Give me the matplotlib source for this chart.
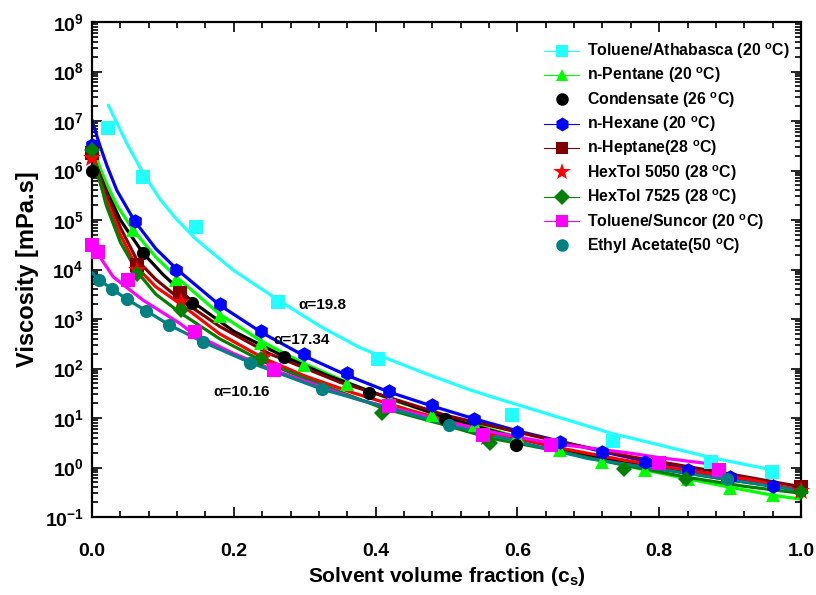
import matplotlib
matplotlib.use("Agg")
import matplotlib.pyplot as plt
from matplotlib.lines import Line2D
from matplotlib.ticker import LogLocator, NullFormatter, MultipleLocator
import numpy as np

plt.rcParams['font.family'] = ['Liberation Sans', 'DejaVu Sans']
plt.rcParams['mathtext.fontset'] = 'custom'
plt.rcParams['mathtext.rm'] = 'Liberation Sans'
plt.rcParams['mathtext.bf'] = 'Liberation Sans:bold'
plt.rcParams['mathtext.it'] = 'Liberation Sans:italic'

# ---------------- data (log10 of viscosity in mPa.s) ----------------
labels = ["Toluene/Athabasca (20 $^{\\mathbf{o}}$C)", "n-Pentane (20 $^{\\mathbf{o}}$C)",
          "Condensate (26 $^{\\mathbf{o}}$C)", "n-Hexane (20 $^{\\mathbf{o}}$C)",
          "n-Heptane(28 $^{\\mathbf{o}}$C)", "HexTol 5050 (28 $^{\\mathbf{o}}$C)",
          "HexTol 7525 (28 $^{\\mathbf{o}}$C)", "Toluene/Suncor (20 $^{\\mathbf{o}}$C)",
          "Ethyl Acetate(50 $^{\\mathbf{o}}$C)"]
colors = ['#22FFFF', '#00FF00', '#000000', '#0000FF', '#800000', '#FF0000', '#008000', '#FF00FF', '#008080']
markers = ['s', '^', 'o', 'h', 's', '*', 'D', 's', 'o']
legend_line = [True, True, False, True, True, False, True, True, False]

# measured points
athabasca_x = [0.023, 0.072, 0.146, 0.263, 0.404, 0.592, 0.735, 0.873, 0.959]
athabasca_y = [6.85, 5.86, 4.85, 3.35, 2.19, 1.06, 0.54, 0.105, -0.097]
pentane_x = [0.0, 0.058, 0.119, 0.18, 0.239, 0.299, 0.36, 0.42, 0.48, 0.54, 0.60, 0.66, 0.72, 0.78, 0.84, 0.90, 0.96]
pentane_y = [6.48, 4.80, 3.79, 3.06, 2.52, 2.07, 1.69, 1.36, 1.06, 0.86, 0.64, 0.35, 0.12, -0.06, -0.24, -0.41, -0.555]
condensate_x = [0.0, 0.0715, 0.1415, 0.271, 0.39, 0.498, 0.598]
condensate_y = [5.98, 4.34, 3.32, 2.24, 1.51, 0.97, 0.46]
hexane_x = [0.0, 0.06, 0.119, 0.18, 0.239, 0.299, 0.36, 0.419, 0.479, 0.539, 0.60, 0.66, 0.72, 0.78, 0.841, 0.90, 0.96]
hexane_y = [6.51, 4.98, 4.0, 3.30, 2.76, 2.29, 1.90, 1.545, 1.26, 0.98, 0.72, 0.52, 0.32, 0.12, -0.05, -0.198, -0.37]
heptane_x = [0.0, 0.063, 0.124, 1.0]
heptane_y = [6.35, 4.09, 3.52, -0.39]
hextol5050_x = [0.0, 0.063, 0.125, 0.243, 0.557, 1.0]
hextol5050_y = [6.25, 3.99, 3.35, 2.23, 0.62, -0.47]
hextol7525_x = [0.0, 0.064, 0.125, 0.238, 0.409, 0.562, 0.75, 0.838, 1.0]
hextol7525_y = [6.41, 3.91, 3.18, 2.19, 1.10, 0.50, -0.04, -0.24, -0.5]
suncor_x = [0.0, 0.009, 0.051, 0.145, 0.256, 0.419, 0.552, 0.648, 0.80, 0.885]
suncor_y = [4.49, 4.36, 3.79, 2.73, 1.97, 1.24, 0.65, 0.45, 0.10, -0.05]
ethyl_x = [0.010, 0.028, 0.049, 0.076, 0.109, 0.156, 0.223, 0.325, 0.503, 0.896]
ethyl_y = [3.79, 3.61, 3.40, 3.17, 2.88, 2.54, 2.12, 1.58, 0.86, -0.24]

# fitted curves
athabasca_fx = [0.023, 0.049, 0.072, 0.096, 0.119, 0.146, 0.2, 0.263, 0.322, 0.378, 0.404, 0.47, 0.533, 0.561, 0.65, 0.735, 0.759, 0.873, 0.96]
athabasca_fy = [7.32, 6.55, 5.95, 5.42, 5.02, 4.62, 3.98, 3.38, 2.85, 2.42, 2.27, 1.90, 1.57, 1.44, 1.05, 0.68, 0.60, 0.20, -0.05]
pentane_fx = [0.0, 0.01, 0.02, 0.035, 0.058, 0.09, 0.119, 0.18, 0.239, 0.299, 0.36, 0.42, 0.48, 0.54, 0.6, 0.66, 0.72, 0.78, 0.84, 0.9, 0.96, 1.0]
pentane_fy = [6.55, 6.1, 5.75, 5.3, 4.8, 4.25, 3.85, 3.1, 2.55, 2.1, 1.72, 1.38, 1.1, 0.86, 0.62, 0.38, 0.15, -0.05, -0.23, -0.4, -0.56, -0.64]
condensate_fx = [0.0, 0.02, 0.04, 0.0715, 0.1, 0.1415, 0.2, 0.271, 0.33, 0.39, 0.5, 0.6, 0.7, 0.8, 0.9, 1.0]
condensate_fy = [6.3, 5.6, 5.0, 4.34, 3.9, 3.35, 2.75, 2.24, 1.87, 1.55, 1.0, 0.6, 0.25, -0.02, -0.25, -0.45]
hexane_fx = [0.0, 0.01, 0.021, 0.035, 0.06, 0.09, 0.12, 0.18, 0.24, 0.30, 0.36, 0.42, 0.48, 0.54, 0.60, 0.66, 0.72, 0.78, 0.84, 0.90, 0.96, 1.0]
hexane_fy = [7.02, 6.55, 6.1, 5.6, 4.98, 4.42, 4.0, 3.28, 2.72, 2.25, 1.86, 1.52, 1.24, 0.98, 0.74, 0.53, 0.32, 0.13, -0.04, -0.2, -0.36, -0.47]
heptane_fx = [0.0, 0.02, 0.04, 0.063, 0.09, 0.124, 0.18, 0.25, 0.35, 0.5, 0.65, 0.759, 0.88, 1.0]
heptane_fy = [6.35, 5.55, 4.85, 4.2, 3.8, 3.4, 2.85, 2.3, 1.72, 1.05, 0.55, 0.22, -0.08, -0.39]
hextol5050_fx = [0.0, 0.02, 0.04, 0.063, 0.09, 0.125, 0.18, 0.243, 0.3, 0.37, 0.45, 0.55, 0.65, 0.75, 0.85, 0.93, 1.0]
hextol5050_fy = [6.25, 5.4, 4.7, 4.05, 3.65, 3.3, 2.7, 2.2, 1.85, 1.5, 1.15, 0.75, 0.42, 0.15, -0.08, -0.25, -0.47]
hextol7525_fx = [0.0, 0.02, 0.04, 0.064, 0.09, 0.125, 0.18, 0.24, 0.3, 0.41, 0.5, 0.56, 0.65, 0.75, 0.84, 0.92, 1.0]
hextol7525_fy = [6.4, 5.3, 4.55, 3.95, 3.5, 3.12, 2.6, 2.15, 1.8, 1.2, 0.85, 0.6, 0.35, 0.05, -0.2, -0.38, -0.52]
suncor_fx = [0.003, 0.009, 0.03, 0.072, 0.124, 0.143, 0.2, 0.256, 0.33, 0.378, 0.419, 0.552, 0.648, 0.759, 0.8, 0.885]
suncor_fy = [4.39, 4.3, 3.85, 3.38, 2.91, 2.7, 2.3, 1.97, 1.6, 1.36, 1.22, 0.75, 0.49, 0.29, 0.2, 0.05]
ethyl_fx = [0.0, 0.010, 0.028, 0.049, 0.076, 0.109, 0.156, 0.223, 0.325, 0.503, 0.7, 0.896, 1.0]
ethyl_fy = [3.94, 3.79, 3.61, 3.40, 3.17, 2.88, 2.54, 2.12, 1.58, 0.86, 0.18, -0.24, -0.47]

points = [(athabasca_x, athabasca_y), (pentane_x, pentane_y), (condensate_x, condensate_y),
          (hexane_x, hexane_y), (heptane_x, heptane_y), (hextol5050_x, hextol5050_y),
          (hextol7525_x, hextol7525_y), (suncor_x, suncor_y), (ethyl_x, ethyl_y)]
fits = [(athabasca_fx, athabasca_fy), (pentane_fx, pentane_fy), (condensate_fx, condensate_fy),
        (hexane_fx, hexane_fy), (heptane_fx, heptane_fy), (hextol5050_fx, hextol5050_fy),
        (hextol7525_fx, hextol7525_fy), (suncor_fx, suncor_fy), (ethyl_fx, ethyl_fy)]

alpha_texts = ["\u03b1=19.8", "\u03b1=17.34", "\u03b1=10.16"]
alpha_pos = [(0.291, 3.28), (0.256, 2.58), (0.171, 1.53)]

# ---------------- figure ----------------
fig = plt.figure(figsize=(8.16, 5.95), dpi=100)
ax = fig.add_axes([92/816, 1-517/595, 709/816, 495/595])

msizes = [9.5, 9.5, 9.5, 10.5, 9.5, 14, 8.5, 9.5, 9.5]
for i in range(9):
    fx, fy = fits[i]
    ax.plot(fx, 10**np.array(fy), color=colors[i], lw=2.3, zorder=2 + i * 0.1,
            solid_capstyle='round', solid_joinstyle='round')
for i in range(9):
    px, py = points[i]
    ax.plot(px, 10**np.array(py), linestyle='none', marker=markers[i], color=colors[i],
            markersize=msizes[i], markeredgewidth=0, zorder=3 + i * 0.1, clip_on=False)

ax.set_yscale('log')
ax.set_xlim(0, 1.0)
ax.set_ylim(1e-1, 1e9)

ax.xaxis.set_major_locator(MultipleLocator(0.2))
ax.xaxis.set_minor_locator(MultipleLocator(0.04))
ax.yaxis.set_minor_locator(LogLocator(base=10, subs=np.arange(2, 10), numticks=20))
ax.yaxis.set_minor_formatter(NullFormatter())
ax.set_yticks([10.0**k for k in range(-1, 10)])
ax.set_yticklabels([r"$\mathbf{10^{%d}}$" % k for k in range(-1, 10)])
ax.set_xticks([0, 0.2, 0.4, 0.6, 0.8, 1.0])
ax.set_xticklabels(["0.0", "0.2", "0.4", "0.6", "0.8", "1.0"], fontsize=14, fontweight='bold')

ax.tick_params(which='both', direction='in', top=True, right=True, width=1.2)
ax.tick_params(which='major', length=7)
ax.tick_params(axis='y', which='major', pad=6, labelsize=14)
ax.tick_params(axis='x', which='major', pad=19)
ax.tick_params(which='minor', length=4)
for sp in ax.spines.values():
    sp.set_linewidth(1.6)

ax.set_ylabel("Viscosity [mPa.s]", fontsize=17, fontweight='bold', labelpad=4)
ax.set_xlabel("Solvent volume fraction (c$_\\mathbf{s}$)", fontsize=15, fontweight='bold', labelpad=3)

for t, (x, ly) in zip(alpha_texts, alpha_pos):
    ax.text(x, 10**ly, t, fontsize=11, fontweight='bold', va='center', ha='left', zorder=10)

handles = []
for i in range(9):
    handles.append(Line2D([0], [0], color=colors[i], lw=0.8 if legend_line[i] else 0,
                          marker=markers[i], markersize=msizes[i] * 0.95,
                          markeredgewidth=0, markerfacecolor=colors[i]))
leg = ax.legend(handles, labels, loc='upper right', bbox_to_anchor=(1.0, 0.983), frameon=False,
                prop={'weight': 'bold', 'size': 11.4}, handlelength=2.2, labelspacing=0.3,
                handletextpad=0.5, borderaxespad=0.3)

fig.savefig("out.png", dpi=100)
